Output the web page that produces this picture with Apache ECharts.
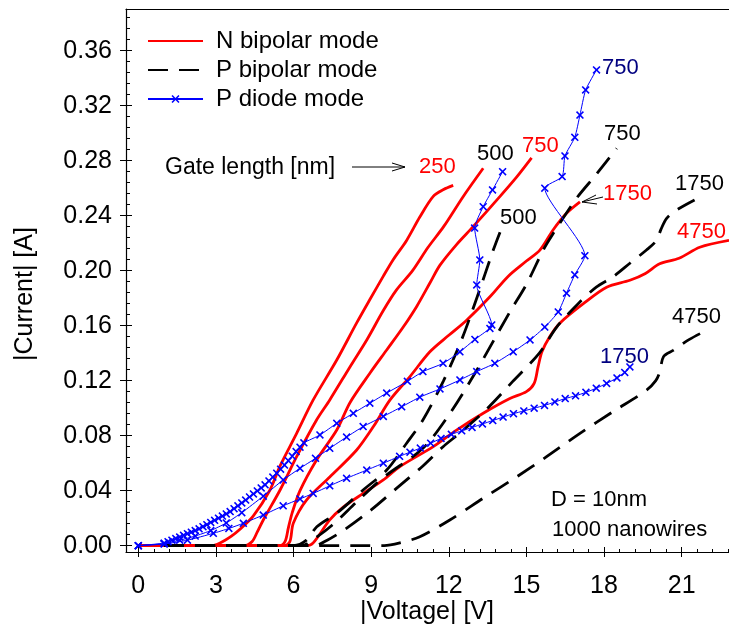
<!DOCTYPE html>
<html><head><meta charset="utf-8">
<script src="https://cdn.jsdelivr.net/npm/echarts@6/dist/echarts.min.js"></script>
<style>html,body{margin:0;padding:0;background:#fff}#c{width:729px;height:638px}</style>
</head><body><div id="c"></div>
<script>
// ---- tick labels ----
const xTicks = [0, 3, 6, 9, 12, 15, 18, 21];
const yTicks = [0, 0.04, 0.08, 0.12, 0.16, 0.20, 0.24, 0.28, 0.32, 0.36];

// ---- N bipolar mode (red, solid) ----
const n250 = [[0,0],[2.8,0],[3.16,0.002],[3.6,0.007],[3.93,0.012],[4.44,0.0215],[5.09,0.0405],[5.48,0.058],[6.12,0.0817],[6.76,0.106],[7.67,0.135],[8.44,0.162],[8.95,0.179],[9.47,0.196],[9.85,0.208],[10.37,0.222],[10.88,0.239],[11.4,0.254],[11.8,0.259],[12.17,0.262]];
const n500 = [[0,0],[4.1,0],[4.4,0.003],[4.6,0.01],[4.83,0.0187],[5.48,0.0405],[6.12,0.0647],[6.89,0.0914],[7.4,0.106],[8.18,0.130],[8.83,0.1496],[9.47,0.171],[9.98,0.186],[10.6,0.200],[11.2,0.217],[11.8,0.232],[12.56,0.254],[13.33,0.2745]];
const n750 = [[0,0],[5.45,0],[5.67,0.003],[5.8,0.013],[5.95,0.024],[6.25,0.04],[6.89,0.0623],[7.67,0.0841],[8.18,0.104],[8.95,0.1254],[9.6,0.1423],[10.24,0.159],[10.76,0.174],[11.27,0.191],[11.66,0.204],[12.3,0.219],[12.94,0.232],[13.98,0.254],[14.62,0.268],[15.2,0.282]];
const n1750 = [[0,0],[5.65,0],[5.86,0.003],[5.99,0.0163],[6.5,0.0332],[7.4,0.050],[8.44,0.0696],[9.1,0.087],[9.73,0.106],[10.5,0.123],[11.27,0.141],[12.0,0.153],[12.69,0.164],[13.59,0.181],[14.3,0.196],[15.0,0.207],[15.52,0.215],[16.03,0.2296],[16.55,0.2417],[17.07,0.250]];
const n4750 = [[0,0],[6.5,0],[6.76,0.002],[7.4,0.0187],[7.92,0.028],[8.69,0.038],[9.47,0.0478],[10.11,0.0575],[11.4,0.072],[12.3,0.084],[13.33,0.0963],[14.36,0.107],[15.0,0.112],[15.3,0.118],[15.45,0.13],[15.6,0.141],[15.9,0.152],[16.3,0.162],[17.2,0.176],[18.1,0.188],[19.0,0.193],[19.6,0.198],[20.15,0.205],[20.9,0.209],[21.7,0.217],[22.83,0.222]];

// ---- P bipolar mode (black, dashed) ----
const p500 = [[1.0,0],[6.0,0],[6.5,0.004],[6.9,0.0138],[7.67,0.0236],[8.69,0.0405],[9.6,0.055],[10.37,0.0745],[11.0,0.0914],[11.8,0.12],[12.5,0.15],[13.08,0.18],[13.72,0.215],[13.98,0.228]];
const p750 = [[1.0,0],[6.3,0],[6.8,0.005],[7.5,0.015],[8.5,0.033],[9.5,0.05],[11.0,0.0708],[12.0,0.095],[13.0,0.125],[14.36,0.17],[15.0,0.19],[15.65,0.215],[16.0,0.226],[16.94,0.2527],[17.7,0.27],[18.49,0.289]];
const p1750 = [[1.0,0],[6.8,0],[7.3,0.004],[8.0,0.012],[9.0,0.026],[10.0,0.042],[11.0,0.058],[11.78,0.072],[12.43,0.082],[13.5,0.1],[14.5,0.12],[15.5,0.14],[16.17,0.159],[17.0,0.176],[17.7,0.188],[18.35,0.1956],[19.0,0.2054],[19.64,0.215],[20.03,0.222],[20.2,0.23],[20.42,0.238],[20.8,0.244],[21.5,0.2514]];
const p4750 = [[1.0,0],[9.5,0],[10.11,0.002],[10.88,0.0065],[12.04,0.0187],[13.33,0.0345],[14.62,0.050],[15.78,0.0647],[17.07,0.0817],[18.35,0.0975],[19.64,0.113],[20.0,0.12],[20.15,0.126],[20.3,0.1375],[20.67,0.142],[21.3,0.15],[22.0,0.157]];

// ---- P diode mode (blue, crosses) ----
const d500 = [[0,0],[1.0,0.0018],[1.15,0.0029],[1.3,0.004],[1.45,0.0052],[1.6,0.0063],[1.75,0.0075],[1.9,0.0087],[2.05,0.0098],[2.2,0.011],[2.35,0.0123],[2.5,0.0138],[2.65,0.0153],[2.8,0.0169],[2.95,0.0184],[3.1,0.02],[3.25,0.0215],[3.4,0.0231],[3.55,0.0248],[3.7,0.0269],[3.85,0.029],[4.0,0.0311],[4.15,0.0332],[4.3,0.0354],[4.45,0.0376],[4.6,0.0398],[4.75,0.042],[4.9,0.0443],[5.05,0.0471],[5.2,0.0499],[5.35,0.0527],[5.5,0.0556],[5.65,0.0586],[5.8,0.0618],[5.95,0.0651],[6.1,0.0684],[6.25,0.0716],[6.4,0.0748],[7.02,0.0805],[7.67,0.089],[8.31,0.0963],[8.95,0.1036],[9.6,0.111],[10.4,0.1195],[11.0,0.1266],[11.78,0.1326],[12.43,0.141],[13.01,0.150],[13.59,0.158],[13.66,0.1605],[13.08,0.1896],[13.2,0.2078],[13.0,0.231],[13.33,0.2465],[13.69,0.2587],[14.08,0.272]];
const d750 = [[0,0],[1.0,0.0015],[1.6,0.004],[2.2,0.007],[2.8,0.011],[3.4,0.0165],[4.0,0.024],[4.83,0.036],[5.6,0.0478],[6.25,0.0563],[6.85,0.0635],[7.4,0.0708],[8.05,0.079],[8.69,0.0866],[9.47,0.094],[10.18,0.101],[10.88,0.108],[11.66,0.114],[12.43,0.1205],[13.08,0.1266],[13.78,0.1326],[14.49,0.141],[15.14,0.1496],[15.71,0.159],[16.23,0.170],[16.55,0.1836],[16.87,0.197],[17.26,0.2109],[15.71,0.260],[16.38,0.2684],[16.49,0.2834],[16.87,0.297],[17.07,0.3132],[17.29,0.3314],[17.71,0.346]];
const d1750 = [[0,0],[1.0,0.0012],[1.9,0.004],[2.9,0.009],[3.5,0.0125],[4.06,0.0163],[4.83,0.0223],[5.6,0.029],[6.25,0.034],[6.76,0.038],[7.4,0.0435],[8.05,0.049],[8.83,0.055],[9.47,0.06],[10.1,0.065],[10.5,0.068],[10.9,0.071],[11.3,0.0745],[11.7,0.078],[12.1,0.081],[12.5,0.0835],[12.9,0.086],[13.3,0.0885],[13.7,0.091],[14.1,0.0935],[14.5,0.096],[14.9,0.098],[15.3,0.100],[15.7,0.102],[16.1,0.1045],[16.5,0.107],[16.9,0.109],[17.3,0.1115],[17.7,0.1145],[18.1,0.118],[18.5,0.122],[18.8,0.126],[19.0,0.130]];

const FONT = 'Liberation Sans, Arial, sans-serif';
const xMin = -0.475, xMax = 22.83, yMin = -0.0046, yMax = 0.3903;

const xMinor = [], yMinor = [];
for (let i = 0; i < xTicks.length; i++) for (let k = 1; k < 5; k++) { const v = xTicks[i] + k * 0.6; if (v < xMax) xMinor.push(+v.toFixed(2)); }
for (let i = 0; i < yTicks.length; i++) for (let k = 1; k < 5; k++) { const v = yTicks[i] + k * 0.008; if (v < yMax) yMinor.push(+v.toFixed(3)); }

const chart = echarts.init(document.getElementById('c'));
const crossPath = 'path://M0,1.4L1.4,0L5,3.6L8.6,0L10,1.4L6.4,5L10,8.6L8.6,10L5,6.4L1.4,10L0,8.6L3.6,5Z';

function red(d) { return {type:'line', name:'N bipolar mode', data:d, smooth:0.3, symbol:'none', lineStyle:{color:'#ff0000', width:2.8}, itemStyle:{color:'#ff0000'}, z:2}; }
function blk(d) { return {type:'line', name:'P bipolar mode', data:d, smooth:0.3, symbol:'none', lineStyle:{color:'#000', width:2.8, type:[20,11]}, itemStyle:{color:'#000'}, z:3}; }
function blu(d) { return {type:'line', name:'P diode mode', data:d, smooth:0.2, symbol:crossPath, symbolSize:8, showSymbol:true, lineStyle:{color:'#0000ff', width:1}, itemStyle:{color:'#0000ff'}, z:4}; }

const axCommon = {type:'value', min:xMin, max:xMax, splitLine:{show:false}};
const ayCommon = {type:'value', min:yMin, max:yMax, splitLine:{show:false}};

function txt(x, y, s, color, size, align) {
  return {type:'text', x:x, y:y, silent:true, style:{text:s, fill:color, font:(size||22)+'px '+FONT, textAlign:align||'left', textVerticalAlign:'middle', align:align||'left', verticalAlign:'middle'}};
}
function line(pts, w) { return {type:'polyline', silent:true, shape:{points:pts}, style:{stroke:'#000', lineWidth:w||1, fill:null}}; }

chart.setOption({
  animation:false,
  backgroundColor:'#fff',
  grid:{left:126, right:0, top:9, bottom:86, containLabel:false},
  legend:{
    data:[
      {name:'N bipolar mode', itemStyle:{opacity:0}},
      {name:'P bipolar mode', itemStyle:{opacity:0}},
      {name:'P diode mode'}
    ],
    orient:'vertical', left:147, top:29, padding:0,
    itemWidth:55, itemHeight:10, itemGap:5, selectedMode:false,
    textStyle:{fontSize:24, fontFamily:FONT, color:'#000', padding:[0,0,0,8]}
  },
  xAxis:[
    Object.assign({}, axCommon, {position:'bottom', axisLine:{show:true, onZero:false, lineStyle:{color:'#000', width:1.2}},
      axisTick:{show:true, inside:false, length:5, customValues:xTicks, lineStyle:{color:'#000'}},
      axisLabel:{show:true, customValues:xTicks, fontSize:25, fontFamily:FONT, color:'#000', margin:22, formatter:v=>String(v)}}),
    Object.assign({}, axCommon, {position:'bottom', axisLine:{show:false, onZero:false},
      axisTick:{show:true, inside:true, length:5, customValues:xTicks, lineStyle:{color:'#000'}}, axisLabel:{show:false}}),
    Object.assign({}, axCommon, {position:'bottom', axisLine:{show:false, onZero:false},
      axisTick:{show:true, inside:true, length:3, customValues:xMinor, lineStyle:{color:'#000'}}, axisLabel:{show:false}}),
    Object.assign({}, axCommon, {position:'top', axisLine:{show:true, onZero:false, lineStyle:{color:'#000', width:1.2}}, axisTick:{show:false}, axisLabel:{show:false}})
  ],
  yAxis:[
    Object.assign({}, ayCommon, {position:'left', axisLine:{show:true, onZero:false, lineStyle:{color:'#000', width:1.2}},
      axisTick:{show:true, inside:false, length:6, customValues:yTicks, lineStyle:{color:'#000'}},
      axisLabel:{show:true, customValues:yTicks, fontSize:25, fontFamily:FONT, color:'#000', margin:14, formatter:v=>v.toFixed(2)}}),
    Object.assign({}, ayCommon, {position:'left', axisLine:{show:false, onZero:false},
      axisTick:{show:true, inside:true, length:6, customValues:yTicks, lineStyle:{color:'#000'}}, axisLabel:{show:false}}),
    Object.assign({}, ayCommon, {position:'left', axisLine:{show:false, onZero:false},
      axisTick:{show:true, inside:true, length:4, customValues:yMinor, lineStyle:{color:'#000'}}, axisLabel:{show:false}})
  ],
  series:[
    red(n250), red(n500), red(n750), red(n1750), red(n4750),
    blk(p500), blk(p750), blk(p1750), blk(p4750),
    blu(d500), blu(d750), blu(d1750)
  ],
  graphic:[
    txt(427, 612, '|Voltage| [V]', '#000', 25, 'center'),
    {type:'text', x:25, y:294, rotation:Math.PI/2, silent:true, style:{text:'|Current| [A]', fill:'#000', font:'25px '+FONT, textAlign:'center', textVerticalAlign:'middle', align:'center', verticalAlign:'middle'}},
    txt(165, 168, 'Gate length [nm]', '#000', 23),
    line([[352,167],[405,167]]), line([[392,163],[405,167],[392,171]]),
    txt(419, 167, '250', '#ff0000'),
    txt(477, 154, '500', '#000'),
    txt(522, 146, '750', '#ff0000'),
    txt(500, 218, '500', '#000'),
    txt(604, 134, '750', '#000'),
    txt(603, 194, '1750', '#ff0000'),
    line([[603,197],[582,202]]), line([[596,195],[582,202],[597,204]]),
    txt(602, 68, '750', '#000080'),
    txt(675, 184, '1750', '#000'),
    txt(677, 232, '4750', '#ff0000'),
    txt(672, 317, '4750', '#000'),
    txt(600, 357, '1750', '#000080'),
    txt(551, 500, 'D = 10nm', '#000', 22),
    txt(552, 530, '1000 nanowires', '#000', 22)
  ]
});
</script></body></html>
